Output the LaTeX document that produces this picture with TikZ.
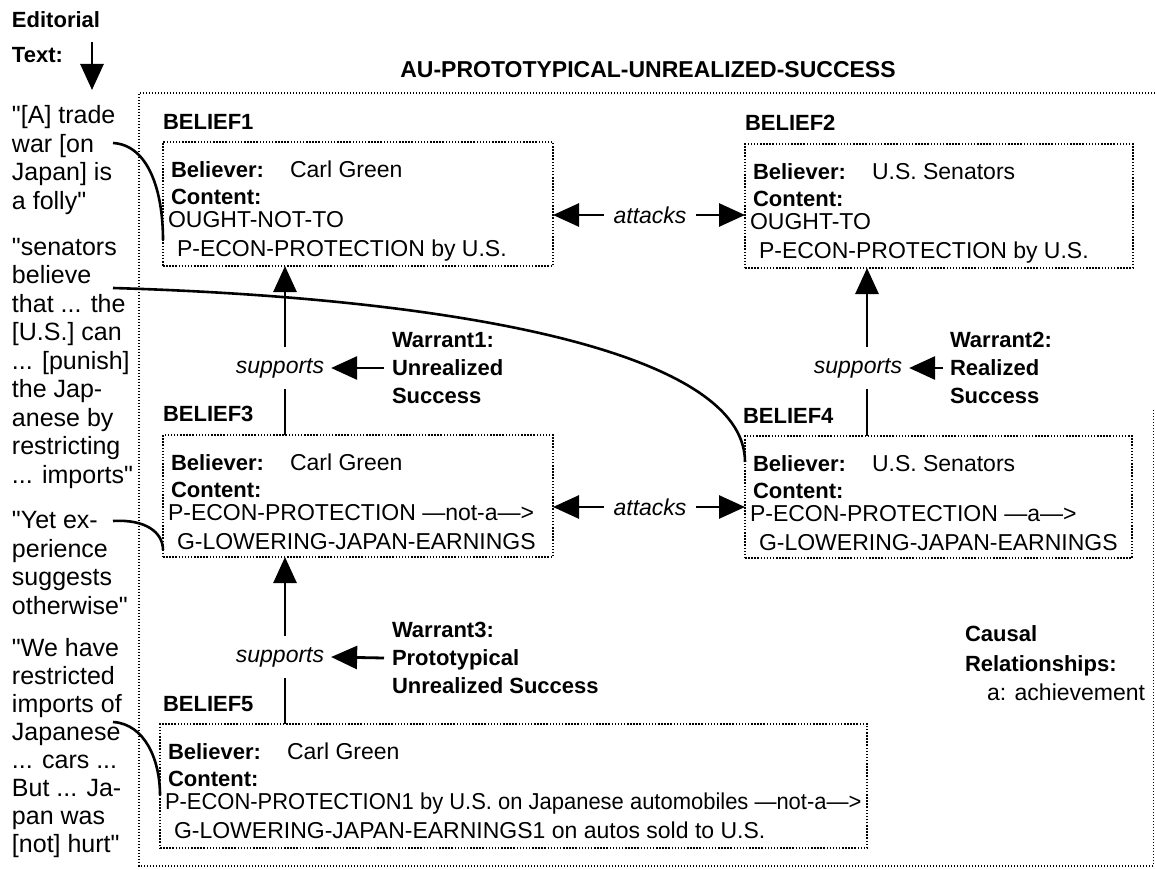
\documentclass[tikz,border=0pt]{standalone}
\usepackage{fontspec}
\newfontfamily\lsans{Liberation Sans}
\usepackage{graphicx}
\usetikzlibrary{arrows.meta}
\begin{document}
\begin{tikzpicture}[x=1pt,y=-1pt,
  every node/.style={inner sep=0pt, outer sep=0pt},
  reg/.style={font=\lsans\fontsize{23}{28}\selectfont, anchor=base west},
  bf/.style={font=\lsans\fontsize{22}{28}\selectfont\bfseries, anchor=base west},
  lt/.style={font=\lsans\fontsize{25}{28.5}\selectfont, anchor=base west},
  warr/.style={font=\lsans\fontsize{22}{28}\selectfont\bfseries, anchor=west, align=left},
  dotbox/.style={draw, line width=2.1pt, dash pattern=on 1.5pt off 1.6pt, anchor=north west},
  frame/.style={line width=1.6pt, dash pattern=on 1.3pt off 1.7pt},
  arr/.style={line width=2.8pt, -{Triangle[length=26pt,width=23pt]}},
  plain/.style={line width=2.8pt},
  curve/.style={line width=2.6pt},
  sup/.style={font=\lsans\fontsize{23}{28}\selectfont\itshape, inner xsep=7pt, inner ysep=11pt},
  att/.style={font=\lsans\fontsize{23}{28}\selectfont\itshape, inner xsep=10pt, inner ysep=4pt},
]
\useasboundingbox (0,0) rectangle (1155,869);

% outer frame
\draw[frame] (1155,93) -- (139,93) -- (139,866) -- (1155,866);
\draw[line width=0.9pt, dash pattern=on 1.2pt off 1.8pt] (1153,410) -- (1153,866);

% editorial heading
\node[bf] (ed1) at (12,28) {Editorial};
\node[bf] (ed2) at (12,63) {Text:};
\coordinate (ea1) at (92,42);
\coordinate (ea2) at (92,90);
\draw[arr] (ea1) -- (ea2);

% title
\node[font=\lsans\fontsize{23}{28}\selectfont\bfseries, anchor=base] (title) at (648,78) {AU-PROTOTYPICAL-UNREALIZED-SUCCESS};

% left column text
\node[lt] (l1) at (12,124) {"[A] trade};
\node[lt] (l2) at (12,152.5) {war [on};
\node[lt] (l3) at (12,181) {Japan] is};
\node[lt] (l4) at (12,209.5) {a folly"};
\node[lt] (l5) at (12,255) {"senators};
\node[lt] (l6) at (12,283.5) {believe};
\node[lt] (l7) at (12,312) {that ... the};
\node[lt] (l8) at (12,340.5) {[U.S.] can};
\node[lt] (l9) at (12,369) {... [punish]};
\node[lt] (l10) at (12,397.5) {the Jap-};
\node[lt] (l11) at (12,426) {anese by};
\node[lt] (l12) at (12,454.5) {restricting};
\node[lt] (l13) at (12,483) {... imports"};
\node[lt] (l14) at (12,528.5) {"Yet ex-};
\node[lt] (l15) at (12,557) {perience};
\node[lt] (l16) at (12,585.5) {suggests};
\node[lt] (l17) at (12,614) {otherwise"};
\node[lt] (l18) at (12,656) {"We have};
\node[lt] (l19) at (12,684) {restricted};
\node[lt] (l20) at (12,712) {imports of};
\node[lt] (l21) at (12,740) {Japanese};
\node[lt] (l22) at (12,768) {... cars ...};
\node[lt] (l23) at (12,796) {But ... Ja-};
\node[lt] (l24) at (12,824) {pan was};
\node[lt] (l25) at (12,852) {[not] hurt"};

% belief boxes
\node[dotbox, minimum width=390pt, minimum height=124pt] (b1) at (163,142) {};
\node[dotbox, minimum width=388pt, minimum height=124pt] (b2) at (745,144) {};
\node[dotbox, minimum width=390pt, minimum height=122pt] (b3) at (163,435) {};
\node[dotbox, minimum width=387pt, minimum height=122pt] (b4) at (745,436) {};
\node[dotbox, minimum width=707pt, minimum height=124pt] (b5) at (160,724) {};

\node[bf] (lb1) at (163,130) {BELIEF1};
\node[bf] (lb2) at (745,131) {BELIEF2};
\node[bf] (lb3) at (163,421) {BELIEF3};
\node[bf] (lb4) at (743,423) {BELIEF4};
\node[bf] (lb5) at (163,711) {BELIEF5};

% box 1
\node[bf] (b1a) at (171,177) {Believer:};
\node[reg] (b1b) at (290,177) {Carl Green};
\node[bf] (b1c) at (171,204) {Content:};
\node[reg] (b1d) at (168,227) {OUGHT-NOT-TO};
\node[reg] (b1e) at (177,256) {P-ECON-PROTECTION by U.S.};
% box 2
\node[bf] (b2a) at (753,179) {Believer:};
\node[reg] (b2b) at (872,179) {U.S. Senators};
\node[bf] (b2c) at (753,206) {Content:};
\node[reg] (b2d) at (750,229) {OUGHT-TO};
\node[reg] (b2e) at (759,258) {P-ECON-PROTECTION by U.S.};
% box 3
\node[bf] (b3a) at (171,470) {Believer:};
\node[reg] (b3b) at (290,470) {Carl Green};
\node[bf] (b3c) at (171,497) {Content:};
\node[reg] (b3d) at (168,520) {P-ECON-PROTECTION —not-a—>};
\node[reg] (b3e) at (177,549) {G-LOWERING-JAPAN-EARNINGS};
% box 4
\node[bf] (b4a) at (753,471) {Believer:};
\node[reg] (b4b) at (872,471) {U.S. Senators};
\node[bf] (b4c) at (753,498) {Content:};
\node[reg] (b4d) at (750,521) {P-ECON-PROTECTION —a—>};
\node[reg] (b4e) at (759,550) {G-LOWERING-JAPAN-EARNINGS};
% box 5
\node[bf] (b5a) at (168,759) {Believer:};
\node[reg] (b5b) at (287,759) {Carl Green};
\node[bf] (b5c) at (168,786) {Content:};
\node[reg] (b5d) at (165,809) {\scalebox{0.955}[1]{P-ECON-PROTECTION1 by U.S. on Japanese automobiles —not-a—>}};
\node[reg] (b5e) at (174,838) {G-LOWERING-JAPAN-EARNINGS1 on autos sold to U.S.};

% attacks
\node[att] (at1) at (650,215) {attacks};
\draw[arr] (at1.west) -- (b1.east |- at1.west);
\draw[arr] (at1.east) -- (b2.west |- at1.east);
\node[att] (at2) at (650,507) {attacks};
\draw[arr] (at2.west) -- (b3.east |- at2.west);
\draw[arr] (at2.east) -- (b4.west |- at2.east);

% supports 1
\coordinate (v1) at (285,0);
\node[sup] (s1) at (280,368) {supports};
\draw[plain] (b3.north -| v1) -- (s1.south -| v1);
\draw[arr] (s1.north -| v1) -- (b1.south -| v1);
\node[warr] (w1) at (392,368) {Warrant1:\\Unrealized\\Success};
\draw[arr] ([xshift=-8pt]w1.west) -- (s1.east);

% supports 2
\coordinate (v2) at (867,0);
\node[sup] (s2) at (858,368) {supports};
\draw[plain] (b4.north -| v2) -- (s2.south -| v2);
\draw[arr] (s2.north -| v2) -- (b2.south -| v2);
\node[warr] (w2) at (950,368) {Warrant2:\\Realized\\Success};
\draw[arr] ([xshift=-7pt]w2.west) -- (s2.east);

% supports 3
\node[sup] (s3) at (280,657) {supports};
\draw[plain] (b5.north -| v1) -- (s3.south -| v1);
\draw[arr] (s3.north -| v1) -- (b3.south -| v1);
\node[warr] (w3) at (392,658) {Warrant3:\\Prototypical\\Unrealized Success};
\draw[arr] ([xshift=-8pt]w3.west) -- (s3.east);

% causal legend
\node[bf] (cr1) at (965,641) {Causal};
\node[bf] (cr2) at (965,671) {Relationships:};
\node[reg] (cr3) at (987,700) {a: achievement};

% curves from editorial text to beliefs
\coordinate (k1) at (113,143);
\coordinate (e1) at (0,240);
\draw[curve] (k1) .. controls (148,145) and (163,190) .. (b1.west |- e1);
\coordinate (k2) at (113,288);
\coordinate (e2) at (0,462);
\draw[curve] (k2) .. controls (450,298) and (745,350) .. (b4.west |- e2);
\coordinate (k3) at (113,521);
\coordinate (e3) at (0,550);
\draw[curve] (k3) .. controls (145,519) and (163,532) .. (b3.west |- e3);
\coordinate (k4) at (113,722);
\coordinate (e4) at (0,795);
\draw[curve] (k4) .. controls (145,724) and (160,760) .. (b5.west |- e4);
\end{tikzpicture}
\end{document}
